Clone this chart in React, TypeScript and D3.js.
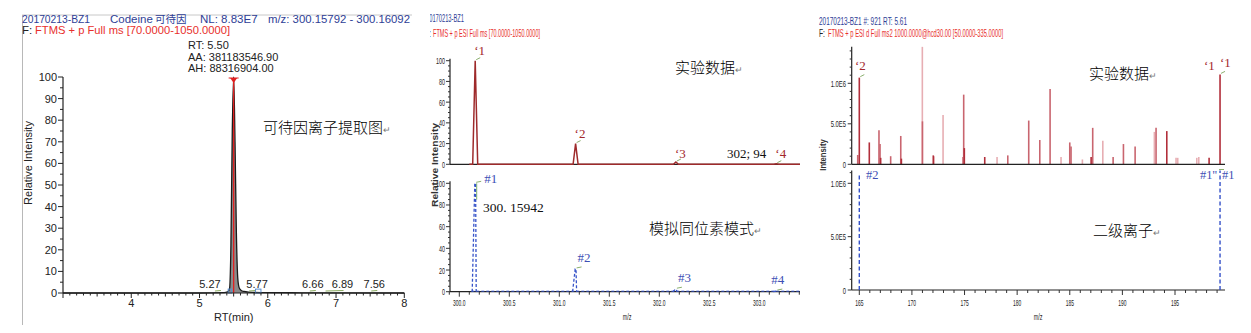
import React from 'react';
import * as d3 from 'd3';

// ---------- Panel 1: extracted ion chromatogram ----------
const XIC_RT = [3.0, 5.0, 5.36, 5.41, 5.44, 5.46, 5.48, 5.5, 5.52, 5.54, 5.56, 5.58, 5.61, 5.65, 5.72, 5.9, 6.5, 8.0];
const XIC_INT = [0, 0, 0.2, 0.5, 2, 22, 75, 100, 70, 28, 7, 2.5, 1.2, 0.7, 0.4, 0.2, 0.1, 0];
const XIC_APEX_RT = 5.5;
const XIC_MINOR_RT = [5.27, 5.77, 6.66, 6.89, 7.56];
const XIC_MINOR_LABELS = ['5.27', '5.77', '6.66', '6.89', '7.56'];
const XIC_ANNOTATION = ['RT: 5.50', 'AA: 381183546.90', 'AH: 88316904.00'];
const XIC_RT_TICKS = [4, 5, 6, 7, 8];
const XIC_INT_TICKS = [0, 10, 20, 30, 40, 50, 60, 70, 80, 90, 100];

// ---------- Panel 2: isotope pattern ----------
const ISO_MZ = [300.159, 301.163, 302.166, 303.17];
const ISO_EXP = [100, 20, 2.2, 0.6];
const ISO_SIM = [100, 21, 2.3, 0.6];
const ISO_EXP_LABELS = ['\u20181', '\u20182', '\u20183', '\u20184'];
const ISO_SIM_LABELS = ['#1', '#2', '#3', '#4'];
const ISO_MZ_TICKS = [300.0, 300.5, 301.0, 301.5, 302.0, 302.5, 303.0];
const ISO_REL_TICKS = [0, 20, 40, 60, 80, 100];

// ---------- Panel 3: MS2 spectrum ----------
const MS2_MZ = [164.85, 165.0, 165.95, 166.87, 166.97, 167.03, 167.98, 168.94, 169.0, 170.99, 171.0, 172.03, 172.1, 172.96,
  174.86, 174.92, 174.98, 176.92, 178.09, 179.11, 181.1, 182.15, 183.13, 184.17, 185.0, 185.12, 186.2, 187.03, 187.18,
  188.14, 189.12, 190.1, 191.21, 193.04, 193.2, 194.22, 195.1, 195.26, 197.07, 197.26, 198.24, 199.28];
const MS2_INT = [0.115e6, 1.07e6, 0.27e6, 0.42e6, 0.25e6, 0.08e6, 0.1e6, 0.35e6, 0.07e6, 1.45e6, 0.53e6, 0.11e6, 0.1e6, 0.61e6,
  0.09e6, 0.86e6, 0.2e6, 0.09e6, 0.09e6, 0.11e6, 0.54e6, 0.3e6, 0.93e6, 0.09e6, 0.27e6, 0.22e6, 0.06e6, 0.09e6, 0.45e6,
  0.29e6, 0.09e6, 0.25e6, 0.22e6, 0.4e6, 0.45e6, 0.41e6, 0.08e6, 0.08e6, 0.08e6, 0.09e6, 0.08e6, 1.11e6];
const MS2_TONE = ['mid', 'dark', 'dark', 'mid', 'mid', 'dark', 'mid', 'mid', 'dark', 'light', 'mid', 'dark', 'light', 'light',
  'mid', 'mid', 'dark', 'dark', 'light', 'mid', 'mid', 'mid', 'mid', 'light', 'mid', 'mid', 'light', 'dark', 'mid',
  'light', 'mid', 'mid', 'mid', 'light', 'mid', 'dark', 'light', 'light', 'light', 'light', 'dark', 'dark'];
const MS2_SIM_MZ = [165.0, 199.28];
const MS2_SIM_INT = [1.08e6, 1.12e6];
const MS2_MZ_TICKS = [165, 170, 175, 180, 185, 190, 195];
const MS2_INT_TICKS = [0, 5e5, 1e6];
const MS2_INT_LABELS = ['0', '5.0E5', '1.0E6'];

const SANS = 'Liberation Sans, Arial, sans-serif';
const SERIF = 'Liberation Serif, Times New Roman, serif';
const CJK = 'Noto Sans CJK SC, sans-serif';
const BLUE_HDR = '#2E3E96';
const RED_HDR = '#E8302C';

type P = [number, number];

const Cond = ({ x, y, children, anchor = 'end', size = 9, sx = 0.6, fill = '#222', weight = 'normal' }: any) => (
  <text transform={`translate(${x},${y}) scale(${sx},1)`} textAnchor={anchor} fontSize={size}
    fontFamily={SANS} fill={fill} fontWeight={weight}>{children}</text>
);

const CjkNote = ({ x, y, text }: any) => (
  <text x={x} y={y} fontFamily={CJK} fontSize={15} fill="#000" fontWeight={300}>
    {text}
    <tspan fontFamily="DejaVu Sans" fontSize={9} fill="#777">{'\u21B5'}</tspan>
  </text>
);

export default function App() {
  // ----- panel 1 scales -----
  const x1 = d3.scaleLinear().domain([3, 8]).range([63, 404.3]);
  const y1 = d3.scaleLinear().domain([0, 100]).range([293, 77]);
  const xicPts: P[] = XIC_RT.map((r, i) => [r, XIC_INT[i]]);
  const xicArea = d3.area<P>().x(d => x1(d[0])).y0(y1(0)).y1(d => y1(d[1])).curve(d3.curveMonotoneX);
  const xicLine = d3.line<P>().x(d => x1(d[0])).y(d => y1(d[1])).curve(d3.curveMonotoneX);
  const x1Minor = d3.range(30, 81).map(v => v / 10);
  const y1Minor = d3.range(0, 101, 5);
  const minorNudge = [-8, 5, 0, 14, 0];

  // ----- panel 2 scales -----
  const x2 = d3.scaleLinear().domain([300, 303]).range([459.3, 759.3]);
  const mz2Max = x2.invert(800);
  const y2a = d3.scaleLinear().domain([0, 100]).range([164.3, 60.7]);
  const y2b = d3.scaleLinear().domain([0, 100]).range([291.7, 183.3]);
  const expPts: P[] = [[300.1, 0]];
  ISO_MZ.forEach((m, i) => { expPts.push([m - 0.025, 0], [m, ISO_EXP[i]], [m + 0.025, 0]); });
  expPts.push([mz2Max, 0]);
  const line2a = d3.line<P>().x(d => x2(d[0])).y(d => y2a(d[1]));
  const line2b = d3.line<P>().x(d => x2(d[0])).y(d => y2b(d[1]));
  const x2Minor = d3.range(2999, 3035).map(v => v / 10);
  const y2Minor = d3.range(0, 101, 5);

  // ----- panel 3 scales -----
  const x3 = d3.scaleLinear().domain([165, 195]).range([859.3, 1175]);
  const y3a = d3.scaleLinear().domain([0, 1e6]).range([164.3, 83.3]);
  const y3b = d3.scaleLinear().domain([0, 1e6]).range([290, 183.3]);
  const x3Minor = d3.range(165, 200);
  const toneColor: Record<string, string> = { dark: '#B22F3B', mid: '#C9656F', light: '#E7AEB3' };
  const toneOrder = ['light', 'mid', 'dark'];
  const ms2Idx = d3.range(MS2_MZ.length).sort((a, b) => toneOrder.indexOf(MS2_TONE[a]) - toneOrder.indexOf(MS2_TONE[b]));

  return (
    <svg width={1251} height={333} style={{ position: 'absolute', left: 0, top: 0, background: '#fff' }}>
      <defs>
        <clipPath id="clip2"><rect x={430} y={0} width={380} height={333} /></clipPath>
      </defs>
      <rect x={0} y={0} width={1251} height={333} fill="#fff" />

      {/* ================= PANEL 1 ================= */}
      <g>
        <line x1={22} y1={15} x2={412} y2={15} stroke="#c8c8c8" />
        <line x1={22.5} y1={15} x2={22.5} y2={325} stroke="#b8b8b8" />
        <g fontFamily={SANS} fontSize={11.5} fill={BLUE_HDR}>
          <text x={22} y={23} textLength={68} lengthAdjust="spacingAndGlyphs">20170213-BZ1</text>
          <text x={110} y={23}>Codeine</text>
          <text x={155} y={23} fontFamily={CJK} fontSize={10.5}>可待因</text>
          <text x={200} y={23}>NL: 8.83E7</text>
          <text x={268} y={23} textLength={142} lengthAdjust="spacingAndGlyphs">m/z: 300.15792 - 300.16092</text>
        </g>
        <text x={22} y={34} fontFamily={SANS} fontSize={11.5} fill="#222">F:</text>
        <text x={35} y={34} fontFamily={SANS} fontSize={11.5} fill={RED_HDR} textLength={195} lengthAdjust="spacingAndGlyphs">FTMS + p Full ms [70.0000-1050.0000]</text>

        <g fontFamily={SANS} fontSize={11} fill="#222">
          {XIC_ANNOTATION.map((t, i) => (
            <text key={t} x={188} y={49 + i * 11.5}>{t}</text>
          ))}
        </g>

        {/* trace */}
        <path d={xicArea(xicPts) || ''} fill="#8a8a8a" stroke="none" />
        <path d={xicLine(xicPts) || ''} fill="none" stroke="#1a1a1a" strokeWidth={1.3} />
        <line x1={x1(XIC_APEX_RT)} x2={x1(XIC_APEX_RT)} y1={y1(0)} y2={y1(99)} stroke="#E02020" strokeWidth={1.3} />
        <path d={`M${x1(XIC_APEX_RT) - 3.5},${y1(100) + 1} L${x1(XIC_APEX_RT) + 3.5},${y1(100) + 1} L${x1(XIC_APEX_RT)},${y1(100) + 6} Z`} fill="#E02020" />
        <line x1={x1(XIC_APEX_RT) - 5} x2={x1(XIC_APEX_RT) + 5} y1={y1(100) + 1} y2={y1(100) + 1} stroke="#E02020" />

        {/* minor peaks */}
        <rect x={x1(5.42)} y={y1(1.8)} width={x1(5.47) - x1(5.42)} height={y1(0) - y1(1.8)} fill="none" stroke="#5A8FD0" strokeWidth={1} />
        <rect x={x1(5.82)} y={y1(1.8)} width={x1(5.9) - x1(5.82)} height={y1(0) - y1(1.8)} fill="none" stroke="#5A8FD0" strokeWidth={1} />
        {XIC_MINOR_RT.map((r, i) => (
          <g key={r}>
            <line x1={x1(r) - 3} x2={x1(r) + (i === 3 ? 15 : 3)} y1={y1(0) - 2} y2={y1(0) - 2.5} stroke="#8AAA60" strokeWidth={1} />
            <text x={x1(r) + minorNudge[i]} y={288} textAnchor="middle" fontFamily={SANS} fontSize={11} fill="#222">{XIC_MINOR_LABELS[i]}</text>
          </g>
        ))}

        {/* axes */}
        <line x1={x1(3)} x2={x1(8)} y1={y1(0)} y2={y1(0)} stroke="#222" strokeWidth={1.2} />
        <line x1={x1(3)} x2={x1(3)} y1={y1(0)} y2={y1(100)} stroke="#222" strokeWidth={1.2} />
        {x1Minor.map(v => (
          <line key={v} x1={x1(v)} x2={x1(v)} y1={y1(0)} y2={y1(0) + (Math.abs(v - Math.round(v)) < 1e-6 ? 5 : Math.abs(v * 2 - Math.round(v * 2)) < 1e-6 ? 3.5 : 2.5)} stroke="#222" />
        ))}
        {y1Minor.map(v => (
          <line key={v} x1={x1(3)} x2={x1(3) - (v % 10 === 0 ? 5 : 3)} y1={y1(v)} y2={y1(v)} stroke="#222" />
        ))}
        {XIC_INT_TICKS.map(v => (
          <text key={v} x={57} y={y1(v) + 4} textAnchor="end" fontFamily={SANS} fontSize={11} fill="#222">{v}</text>
        ))}
        {XIC_RT_TICKS.map(v => (
          <text key={v} x={x1(v)} y={307} textAnchor="middle" fontFamily={SANS} fontSize={11} fill="#222">{v}</text>
        ))}
        <text x={x1(5.5)} y={321} textAnchor="middle" fontFamily={SANS} fontSize={11} fill="#222">RT(min)</text>
        <text transform={`translate(32,163) rotate(-90)`} textAnchor="middle" fontFamily={SANS} fontSize={11} fill="#222">Relative Intensity</text>

        <CjkNote x={263} y={133} text="可待因离子提取图" />
      </g>

      {/* ================= PANEL 2 ================= */}
      <g clipPath="url(#clip2)">
        <text x={426} y={22} fontFamily={SANS} fontSize={10} fill={BLUE_HDR} textLength={38} lengthAdjust="spacingAndGlyphs">20170213-BZ1</text>
        <text x={425} y={37} fontFamily={SANS} fontSize={10} fill="#222" textLength={6} lengthAdjust="spacingAndGlyphs">F:</text>
        <text x={433} y={37} fontFamily={SANS} fontSize={10.5} fill={RED_HDR} textLength={107} lengthAdjust="spacingAndGlyphs">FTMS + p ESI Full ms [70.0000-1050.0000]</text>
      </g>
      <text x={0} y={0} transform={`translate(438,165) rotate(-90)`} textAnchor="middle" fontFamily={SANS} fontSize={9.5} fontWeight="bold" fill="#333" textLength={84} lengthAdjust="spacingAndGlyphs">Relative Intensity</text>
      <g>
        {/* upper: experimental */}
        <line x1={450} x2={800} y1={y2a(0)} y2={y2a(0)} stroke="#222" strokeWidth={1.2} />
        <line x1={450} x2={450} y1={y2a(0)} y2={y2a(102)} stroke="#222" strokeWidth={1.2} />
        {y2Minor.map(v => (
          <line key={v} x1={450} x2={450 - (v % 20 === 0 ? 4 : 2)} y1={y2a(v)} y2={y2a(v)} stroke="#333" />
        ))}
        {ISO_REL_TICKS.map(v => (
          <Cond key={v} x={445} y={y2a(v) + 3.5}>{v}</Cond>
        ))}
        <path d={line2a(expPts) || ''} fill="none" stroke="#9E2A2B" strokeWidth={1.5} />
        {ISO_MZ.map((m, i) => (
          <line key={m} x1={x2(m) + 1} x2={x2(m) + 5} y1={y2a(ISO_EXP[i]) - 1} y2={y2a(ISO_EXP[i]) - 3} stroke="#8CB070" />
        ))}
        {ISO_EXP_LABELS.map((t, i) => (
          <text key={t} x={x2(ISO_MZ[i]) - 1} y={i === 0 ? 55 : i === 1 ? 138 : 158} fontFamily={SERIF} fontSize={13} fill="#A3272B">{t}</text>
        ))}
        <text x={727} y={158} fontFamily={SERIF} fontSize={13} fill="#111">302; 94</text>
        <CjkNote x={675} y={73} text="实验数据" />

        {/* lower: simulated */}
        <line x1={450} x2={800} y1={y2b(0)} y2={y2b(0)} stroke="#222" strokeWidth={1.2} />
        <line x1={450} x2={450} y1={y2b(0)} y2={y2b(102)} stroke="#222" strokeWidth={1.2} />
        <line x1={x2(300.12)} x2={800} y1={y2b(0) - 0.5} y2={y2b(0) - 0.5} stroke="#3552C8" strokeWidth={1} strokeDasharray="3,2" />
        {y2Minor.map(v => (
          <line key={v} x1={450} x2={450 - (v % 20 === 0 ? 4 : 2)} y1={y2b(v)} y2={y2b(v)} stroke="#333" />
        ))}
        {ISO_REL_TICKS.map(v => (
          <Cond key={v} x={445} y={y2b(v) + 3.5}>{v}</Cond>
        ))}
        {x2Minor.map(v => (
          <line key={v} x1={x2(v)} x2={x2(v)} y1={y2b(0)} y2={y2b(0) + (Math.abs(v * 2 - Math.round(v * 2)) < 1e-6 ? 5 : 3)} stroke="#333" />
        ))}
        {ISO_MZ_TICKS.map(v => (
          <Cond key={v} x={x2(v)} y={306} anchor="middle" size={9} sx={0.55}>{v.toFixed(1)}</Cond>
        ))}
        <Cond x={627} y={320} anchor="middle" size={9} sx={0.6}>m/z</Cond>
        {ISO_MZ.map((m, i) => {
          const pts: P[] = [[m - 0.03, 0], [m - 0.004, ISO_SIM[i]], [m + 0.004, ISO_SIM[i]], [m + 0.01, 0]];
          return <path key={m} d={line2b(pts) || ''} fill="none" stroke="#3552C8" strokeWidth={1.3} strokeDasharray="3,2" />;
        })}
        <line x1={x2(ISO_MZ[0]) + 1.5} x2={x2(ISO_MZ[0]) + 1.5} y1={y2b(100)} y2={y2b(85)} stroke="#7FB070" strokeWidth={1} />
        {ISO_MZ.map((m, i) => (
          <line key={m} x1={x2(m) + 1} x2={x2(m) + 6} y1={y2b(ISO_SIM[i]) - 1} y2={y2b(ISO_SIM[i]) - 2} stroke="#8CB070" />
        ))}
        {ISO_SIM_LABELS.map((t, i) => (
          <text key={t} x={x2(ISO_MZ[i]) + (i === 0 ? 9 : i === 3 ? -5 : 2)} y={i === 0 ? 183 : i === 1 ? 262 : i === 2 ? 282 : 284}
            fontFamily={SERIF} fontSize={13} fill="#3D4FB5">{t}</text>
        ))}
        <text x={483} y={212} fontFamily={SERIF} fontSize={13.5} fill="#111">300. 15942</text>
        <CjkNote x={649} y={234} text="模拟同位素模式" />
      </g>

      {/* ================= PANEL 3 ================= */}
      <g>
        <text x={819} y={25} fontFamily={SANS} fontSize={10} fill={BLUE_HDR} textLength={88} lengthAdjust="spacingAndGlyphs">20170213-BZ1 #: 921 RT: 5.61</text>
        <text x={819} y={37} fontFamily={SANS} fontSize={10} fill="#222" textLength={6} lengthAdjust="spacingAndGlyphs">F:</text>
        <text x={828} y={37} fontFamily={SANS} fontSize={10.5} fill={RED_HDR} textLength={175} lengthAdjust="spacingAndGlyphs">FTMS + p ESI d Full ms2 1000.0000@hcd30.00 [50.0000-335.0000]</text>

        <text transform={`translate(826,155) rotate(-90) scale(0.85,1)`} textAnchor="middle" fontFamily={SANS} fontSize={9} fontWeight="bold" fill="#333">Intensity</text>

        {/* upper: experimental MS2 */}
        {ms2Idx.map(i => (
          <line key={i} x1={x3(MS2_MZ[i])} x2={x3(MS2_MZ[i])} y1={y3a(0)} y2={y3a(MS2_INT[i])}
            stroke={toneColor[MS2_TONE[i]]} strokeWidth={1.6} />
        ))}
        <line x1={851.7} x2={1225} y1={y3a(0)} y2={y3a(0)} stroke="#222" strokeWidth={1.2} />
        <line x1={851.7} x2={851.7} y1={y3a(0)} y2={y3a(1.45e6)} stroke="#222" strokeWidth={1.2} />
        {d3.range(0, 14.6e5, 1e5).map(v => (
          <line key={v} x1={851.7} x2={851.7 - (v % 5e5 === 0 ? 4 : 2)} y1={y3a(v)} y2={y3a(v)} stroke="#333" />
        ))}
        {MS2_INT_TICKS.map((v, i) => (
          <Cond key={v} x={846} y={y3a(v) + 3.5} sx={0.65}>{MS2_INT_LABELS[i]}</Cond>
        ))}
        <line x1={x3(165.0) + 1} x2={x3(165.0) + 5} y1={y3a(1.07e6) - 1} y2={y3a(1.07e6) - 3} stroke="#8CB070" />
        <line x1={x3(199.28) + 1} x2={x3(199.28) + 5} y1={y3a(1.11e6) - 1} y2={y3a(1.11e6) - 3} stroke="#8CB070" />
        <text x={855} y={70} fontFamily={SERIF} fontSize={13} fill="#A3272B">{'\u20182'}</text>
        <text x={1204} y={70} fontFamily={SERIF} fontSize={13} fill="#A3272B">{'\u20181'}</text>
        <text x={1220} y={67} fontFamily={SERIF} fontSize={13} fill="#A3272B">{'\u20181'}</text>
        <CjkNote x={1089} y={79} text="实验数据" />

        {/* lower: matched fragments */}
        <line x1={851.7} x2={1225} y1={y3b(0)} y2={y3b(0)} stroke="#222" strokeWidth={1.2} />
        <line x1={851.7} x2={851.7} y1={y3b(0)} y2={y3b(1.12e6)} stroke="#222" strokeWidth={1.2} />
        {d3.range(0, 11.2e5, 1e5).map(v => (
          <line key={v} x1={851.7} x2={851.7 - (v % 5e5 === 0 ? 4 : 2)} y1={y3b(v)} y2={y3b(v)} stroke="#333" />
        ))}
        {MS2_INT_TICKS.map((v, i) => (
          <Cond key={v} x={846} y={y3b(v) + 3.5} sx={0.65}>{MS2_INT_LABELS[i]}</Cond>
        ))}
        {x3Minor.map(v => (
          <line key={v} x1={x3(v)} x2={x3(v)} y1={y3b(0)} y2={y3b(0) + (v % 5 === 0 ? 5 : 3)} stroke="#333" />
        ))}
        {MS2_MZ_TICKS.map(v => (
          <Cond key={v} x={x3(v)} y={306} anchor="middle" size={9} sx={0.55}>{v}</Cond>
        ))}
        <Cond x={1038} y={320} anchor="middle" size={9} sx={0.6}>m/z</Cond>
        {MS2_SIM_MZ.map((m, i) => (
          <line key={m} x1={x3(m)} x2={x3(m)} y1={y3b(0)} y2={y3b(MS2_SIM_INT[i])} stroke="#3552C8" strokeWidth={1.4} strokeDasharray="4,2.5" />
        ))}
        <line x1={x3(199.28) - 1} x2={x3(199.28) + 4} y1={y3b(1.12e6) - 1} y2={y3b(1.12e6) - 1} stroke="#8CB070" />
        <text x={866} y={179} fontFamily={SERIF} fontSize={12.5} fill="#3D4FB5">#2</text>
        <text x={1200} y={179} fontFamily={SERIF} fontSize={12.5} fill="#3D4FB5">#1''</text>
        <text x={1222} y={179} fontFamily={SERIF} fontSize={12.5} fill="#3D4FB5">#1</text>
        <CjkNote x={1093} y={236} text="二级离子" />
      </g>
    </svg>
  );
}
